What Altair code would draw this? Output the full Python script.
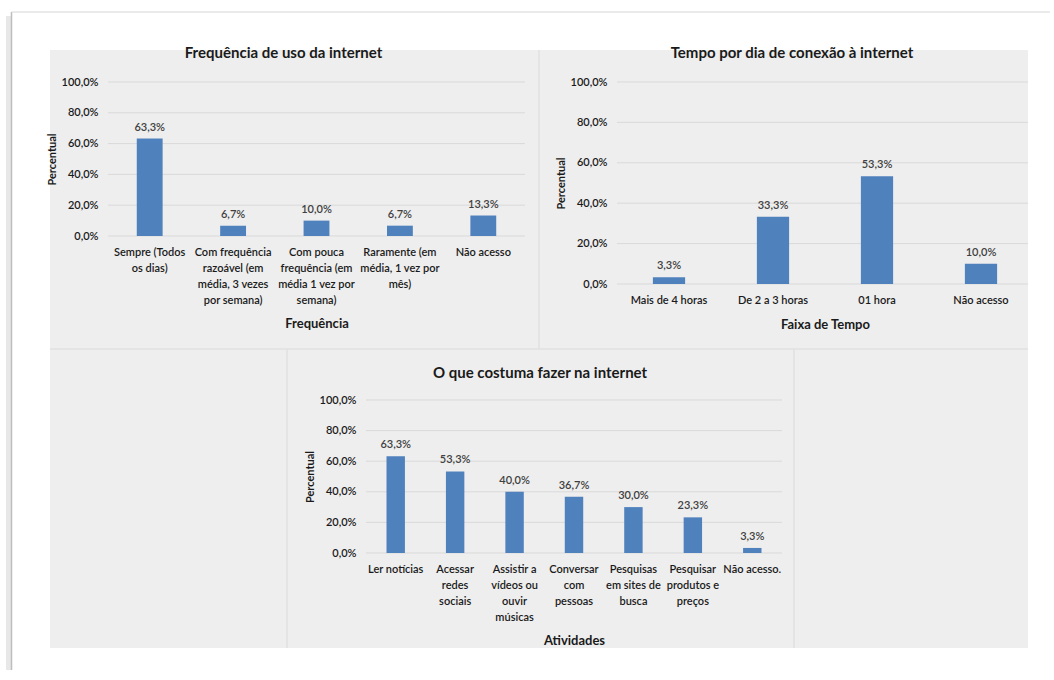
import altair as alt
import pandas as pd

FONT = "Lato"
BAR = "#4f81bd"
GRID = "#d9d9d9"
PANEL = "#eeeeee"
DIV = "#e0e0e0"
TXT = "#1a1a1a"

# ---- data ----
freq_cats = [
    "Sempre (Todos\nos dias)",
    "Com frequência\nrazoável (em\nmédia, 3 vezes\npor semana)",
    "Com pouca\nfrequência (em\nmédia 1 vez por\nsemana)",
    "Raramente (em\nmédia, 1 vez por\nmês)",
    "Não acesso",
]
freq_vals = [63.3, 6.7, 10.0, 6.7, 13.3]

tempo_cats = ["Mais de 4 horas", "De 2 a 3 horas", "01 hora", "Não acesso"]
tempo_vals = [3.3, 33.3, 53.3, 10.0]

ativ_cats = [
    "Ler notícias",
    "Acessar\nredes\nsociais",
    "Assistir a\nvídeos ou\nouvir\nmúsicas",
    "Conversar\ncom\npessoas",
    "Pesquisas\nem sites de\nbusca",
    "Pesquisar\nprodutos e\npreços",
    "Não acesso.",
]
ativ_vals = [63.3, 53.3, 40.0, 36.7, 30.0, 23.3, 3.3]

y_ticks = [0, 20, 40, 60, 80, 100]
titles = [
    "Frequência de uso da internet",
    "Tempo por dia de conexão à internet",
    "O que costuma fazer na internet",
]
x_titles = ["Frequência", "Faixa de Tempo", "Atividades"]
y_title = "Percentual"

PCT_EXPR = "replace(format(datum.value, '.1f'), '.', ',') + '%'"
one = pd.DataFrame({"a": [0]})

# one shared plot frame; page origin of the frame
OX, OY = 108, 82
W, H = 925, 471


def panel(cats, vals, title, xtitle, left, pw, top, ph, xtitle_y, grid_end, tx, ty):
    """left/top/pw/ph are the panel's plot box inside the shared frame."""
    xscale = alt.Scale(paddingInner=0, paddingOuter=0, range=[left, left + pw])
    yscale = alt.Scale(domain=[0, 100], nice=False, range=[top + ph, top])
    df = pd.DataFrame({"cat": cats, "v": vals})
    xenc = alt.X(
        "cat:N",
        sort=None,
        scale=xscale,
        axis=alt.Axis(
            orient="bottom",
            offset=-(H - top - ph),
            title=xtitle,
            labelExpr="split(datum.value, '\\n')",
            labelAngle=0,
            labelPadding=10,
            labelLineHeight=16,
            labelLimit=0,
            labelOverlap=False,
            labelFontSize=11,
            labelFontWeight=600,
            ticks=False,
            domain=False,
            grid=False,
            titleX=left + pw / 2.0,
            titleY=xtitle_y,
            titleBaseline="middle",
            titleFontSize=13,
            titleFontWeight="bold",
            zindex=1,
        ),
    )
    yaxis = alt.Axis(
        orient="left",
        offset=-left,
        title=y_title,
        values=y_ticks,
        labelExpr=PCT_EXPR,
        grid=False,
        ticks=False,
        domain=False,
        labelPadding=10,
        labelFontSize=11,
        labelFontWeight=600,
        titleX=-56,
        titleY=top + ph / 2.0,
        titleBaseline="middle",
        titleFontSize=11,
        titleFontWeight="bold",
        zindex=1,
    )
    grid = alt.Chart(pd.DataFrame({"t": y_ticks})).mark_rule(
        color=GRID, strokeWidth=1
    ).encode(
        y=alt.Y("t:Q", scale=yscale, axis=yaxis),
        x=alt.value(left),
        x2=alt.value(grid_end),
    )
    bars = alt.Chart(df).mark_bar(
        color=BAR, width=alt.RelativeBandSize(0.31)
    ).encode(
        x=xenc,
        y=alt.Y("v:Q", scale=yscale, axis=yaxis),
    )
    labels = alt.Chart(df).transform_calculate(
        lbl="replace(format(datum.v, '.1f'), '.', ',') + '%'"
    ).mark_text(
        dy=-8, baseline="alphabetic", fontSize=11, fontWeight=600,
        color="#404040", font=FONT,
    ).encode(
        x=alt.X("cat:N", sort=None, scale=xscale),
        y=alt.Y("v:Q", scale=yscale),
        text="lbl:N",
    )
    ttl = alt.Chart(pd.DataFrame({"s": [title]})).mark_text(
        fontSize=15, fontWeight="bold", font=FONT, color=TXT,
        baseline="alphabetic", align="center",
    ).encode(x=alt.value(tx), y=alt.value(ty), text="s:N")
    return alt.layer(grid, bars, labels, ttl)


def vrule(px, py1, py2, color, w):
    return alt.Chart(one).mark_rule(color=color, strokeWidth=w).encode(
        x=alt.value(px - OX), y=alt.value(py1 - OY), y2=alt.value(py2 - OY)
    )


def hrule(py, px1, px2, color, w):
    return alt.Chart(one).mark_rule(color=color, strokeWidth=w).encode(
        y=alt.value(py - OY), x=alt.value(px1 - OX), x2=alt.value(px2 - OX)
    )


bg = alt.Chart(one).mark_rect(color=PANEL).encode(
    x=alt.value(50 - OX), x2=alt.value(1028 - OX),
    y=alt.value(50 - OY), y2=alt.value(648 - OY),
)
decor = [
    vrule(8.5, 16, 670, "#e8e8e8", 5),
    vrule(11.5, 12, 670, "#bdbdbd", 1.5),
    hrule(12, 11.5, 1050, "#d6d6d6", 1),
    bg,
    vrule(539, 50, 349, DIV, 1.5),
    hrule(349, 50, 1028, DIV, 1.5),
    vrule(287, 349, 648, DIV, 1.5),
    vrule(794, 349, 648, DIV, 1.5),
]

pA = panel(freq_cats, freq_vals, titles[0], x_titles[0],
           0, 417, 0, 154, 87, 417, 175.5, -24)
pB = panel(tempo_cats, tempo_vals, titles[1], x_titles[1],
           509, 416, 0, 202, 40, 920, 509 + 175, -24)
pC = panel(ativ_cats, ativ_vals, titles[2], x_titles[2],
           258, 416, 318, 153, 87, 674, 258 + 174, 318 - 22)

chart = alt.layer(*decor, pA, pB, pC).resolve_scale(
    x="independent", y="independent"
).resolve_axis(
    x="independent", y="independent"
).properties(
    width=W, height=H,
    padding={"left": 6, "top": 11, "right": 0, "bottom": 0},
    background="white",
).configure(font=FONT).configure_view(strokeWidth=0).configure_axis(
    labelFont=FONT, titleFont=FONT, labelColor=TXT, titleColor=TXT
)

chart.save("out.html", embed_options={"renderer": "svg", "actions": False})
